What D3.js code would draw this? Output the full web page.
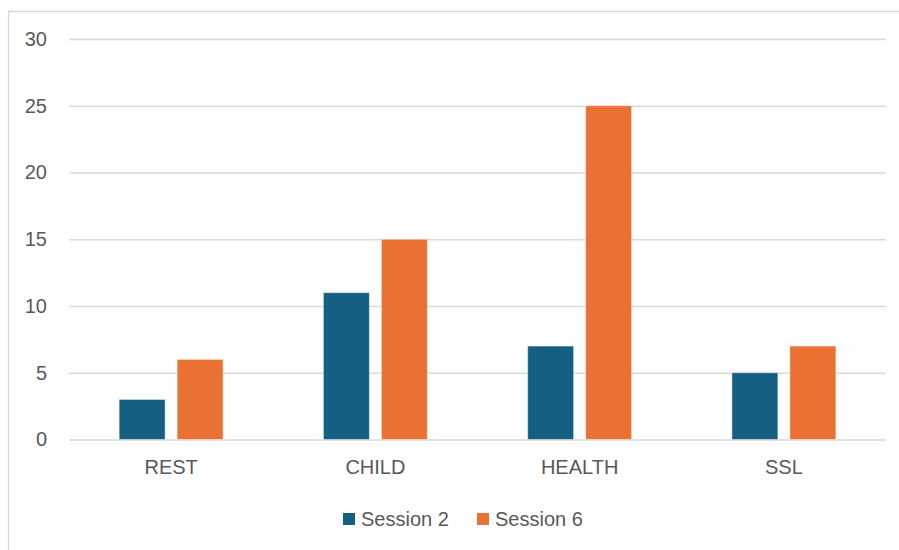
<!DOCTYPE html>
<html>
<head>
<meta charset="utf-8">
<script src="https://cdn.jsdelivr.net/npm/d3@7"></script>
<style>
  html, body { margin: 0; padding: 0; background: #fff; }
  svg { display: block; }
  text { font-family: "Liberation Sans", Arial, sans-serif; fill: #595959; }
</style>
</head>
<body>
<script>
// Categories and series values
const categories = ["REST", "CHILD", "HEALTH", "SSL"];
const seriesNames = ["Session 2", "Session 6"];
const session2 = [3, 11, 7, 5];
const session6 = [6, 15, 25, 7];
const yTicks = [0, 5, 10, 15, 20, 25, 30];
const colors = ["#156082", "#E97132"];

const W = 899, H = 550;
const plot = { left: 69, right: 886, top: 39, bottom: 439.5 };

const svg = d3.select("body").append("svg")
  .attr("width", W).attr("height", H);

// Outer chart frame (only top and left edges fall inside the view)
svg.append("path")
  .attr("d", `M8.5,${H} V11.5 H${W}`)
  .attr("fill", "none")
  .attr("stroke", "#d6d6d6")
  .attr("stroke-width", 1.3);

const y = d3.scaleLinear().domain([0, 30]).range([plot.bottom, plot.top]);

const x0 = d3.scaleBand()
  .domain(categories)
  .range([plot.left, plot.right])
  .paddingInner(0.491)
  .paddingOuter(0.2455);

const x1 = d3.scaleBand()
  .domain(seriesNames)
  .range([0, x0.bandwidth()])
  .paddingInner(0.2069);

// Horizontal gridlines
const yAxis = d3.axisLeft(y)
  .tickValues(yTicks)
  .tickSize(-(plot.right - plot.left))
  .tickPadding(22)
  .tickFormat(d3.format("d"));

const gy = svg.append("g")
  .attr("transform", `translate(${plot.left},0)`)
  .call(yAxis);
gy.select(".domain").remove();
gy.selectAll(".tick line")
  .attr("stroke", "#d9d9d9")
  .attr("stroke-width", 1.3);
gy.selectAll(".tick text")
  .attr("font-size", 20)
  .attr("fill", "#595959")
  .style("font-family", "'Liberation Sans', Arial, sans-serif");

// Bars
const rows = categories.map((c, i) => ({ cat: c, vals: [session2[i], session6[i]] }));

const groups = svg.append("g").selectAll("g")
  .data(rows)
  .join("g")
  .attr("transform", d => `translate(${x0(d.cat)},0)`);

groups.selectAll("rect")
  .data(d => d.vals.map((v, j) => ({ name: seriesNames[j], v, j })))
  .join("rect")
  .attr("x", d => x1(d.name))
  .attr("width", x1.bandwidth())
  .attr("y", d => y(d.v))
  .attr("height", d => y(0) - y(d.v))
  .attr("fill", d => colors[d.j])
  .attr("stroke", "#ffffff")
  .attr("stroke-opacity", 0.45)
  .attr("stroke-width", 1);

// Category axis labels
const xAxis = d3.axisBottom(x0).tickSize(0).tickPadding(20);
const gx = svg.append("g")
  .attr("transform", `translate(0,${plot.bottom})`)
  .call(xAxis);
gx.select(".domain").remove();
gx.selectAll(".tick text")
  .attr("font-size", 20)
  .attr("fill", "#595959")
  .style("font-family", "'Liberation Sans', Arial, sans-serif");

// Legend
const legendX = [343, 477];
const legend = svg.append("g").selectAll("g")
  .data(seriesNames)
  .join("g")
  .attr("transform", (d, i) => `translate(${legendX[i]},513)`);
legend.append("rect")
  .attr("width", 12).attr("height", 12)
  .attr("fill", (d, i) => colors[i]);
legend.append("text")
  .attr("x", 18).attr("y", 12.5)
  .attr("font-size", 20)
  .text(d => d);
</script>
</body>
</html>
